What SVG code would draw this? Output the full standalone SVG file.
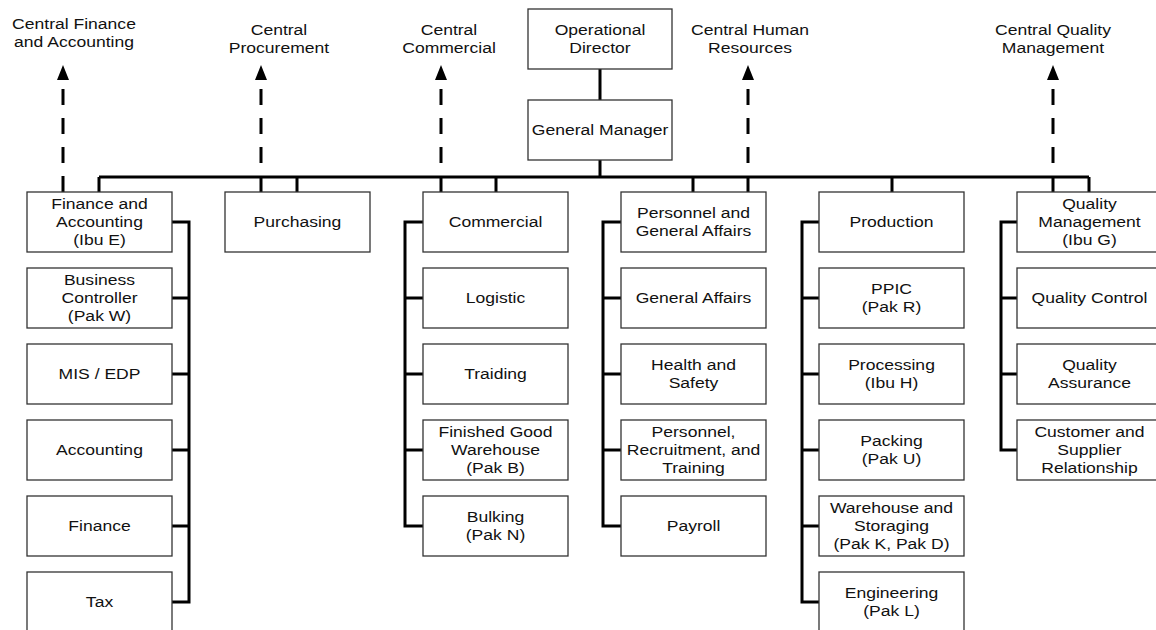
<svg xmlns="http://www.w3.org/2000/svg" width="1156" height="630" viewBox="0 0 1156 630">
<defs>
<style>
.box{fill:#fff;stroke:#333;stroke-width:1.3}
.t{font-family:"Liberation Sans",Arial,sans-serif;font-size:15px;fill:#111;text-anchor:middle}
.c{fill:none;stroke:#000;stroke-width:3}
.d{fill:none;stroke:#000;stroke-width:3;stroke-dasharray:16 13}
.ah{fill:#000}
</style>
</defs>
<rect width="1156" height="630" fill="#fff"/>
<g id="connectors">
<path class="c" d="M600 69V100M600 160V177M99 177H1089M99 177V192M297 177V192M496 177V192M693 177V192M892 177V192M1089 177V192"/>
<path class="c" d="M172 222H189V602H172M172 298H189M172 374H189M172 450H189M172 526H189"/>
<path class="c" d="M423 222H405V526H423M405 298H423M405 374H423M405 450H423"/>
<path class="c" d="M621 222H603V526H621M603 298H621M603 374H621M603 450H621"/>
<path class="c" d="M819 222H802V602H819M802 298H819M802 374H819M802 450H819M802 526H819"/>
<path class="c" d="M1017 222H1001V450H1017M1001 298H1017M1001 374H1017"/>
<path class="d" d="M63 192V80M261 192V80M441 192V80M748 192V80M1053 192V80"/>
<path class="ah" d="M63 65L57 80H69ZM261 65L255 80H267ZM441 65L435 80H447ZM748 65L742 80H754ZM1053 65L1047 80H1059Z"/>
</g>
<g id="ext-labels">
<text class="t" transform="translate(74 29) scale(1.17 1)"><tspan x="0" y="0">Central Finance</tspan><tspan x="0" y="18">and Accounting</tspan></text>
<text class="t" transform="translate(279 35) scale(1.17 1)"><tspan x="0" y="0">Central</tspan><tspan x="0" y="18">Procurement</tspan></text>
<text class="t" transform="translate(449 35) scale(1.17 1)"><tspan x="0" y="0">Central</tspan><tspan x="0" y="18">Commercial</tspan></text>
<text class="t" transform="translate(750 35) scale(1.17 1)"><tspan x="0" y="0">Central Human</tspan><tspan x="0" y="18">Resources</tspan></text>
<text class="t" transform="translate(1053 35) scale(1.17 1)"><tspan x="0" y="0">Central Quality</tspan><tspan x="0" y="18">Management</tspan></text>
</g>
<g id="op-director"><rect class="box" x="528" y="9" width="144" height="60"/><text class="t" transform="translate(600 35) scale(1.17 1)"><tspan x="0" y="0">Operational</tspan><tspan x="0" y="18">Director</tspan></text></g>
<g id="general-manager"><rect class="box" x="528" y="100" width="144" height="60"/><text class="t" transform="translate(600 135) scale(1.17 1)">General Manager</text></g>

<g id="finance-accounting"><rect class="box" x="27" y="192" width="145" height="60"/><text class="t" transform="translate(99.5 209) scale(1.17 1)"><tspan x="0" y="0">Finance and</tspan><tspan x="0" y="18">Accounting</tspan><tspan x="0" y="36">(Ibu E)</tspan></text></g>
<g id="business-controller"><rect class="box" x="27" y="268" width="145" height="60"/><text class="t" transform="translate(99.5 285) scale(1.17 1)"><tspan x="0" y="0">Business</tspan><tspan x="0" y="18">Controller</tspan><tspan x="0" y="36">(Pak W)</tspan></text></g>
<g id="mis-edp"><rect class="box" x="27" y="344" width="145" height="60"/><text class="t" transform="translate(99.5 379) scale(1.17 1)">MIS / EDP</text></g>
<g id="accounting"><rect class="box" x="27" y="420" width="145" height="60"/><text class="t" transform="translate(99.5 455) scale(1.17 1)">Accounting</text></g>
<g id="finance"><rect class="box" x="27" y="496" width="145" height="60"/><text class="t" transform="translate(99.5 531) scale(1.17 1)">Finance</text></g>
<g id="tax"><rect class="box" x="27" y="572" width="145" height="60"/><text class="t" transform="translate(99.5 607) scale(1.17 1)">Tax</text></g>

<g id="purchasing"><rect class="box" x="225" y="192" width="145" height="60"/><text class="t" transform="translate(297.5 227) scale(1.17 1)">Purchasing</text></g>

<g id="commercial"><rect class="box" x="423" y="192" width="145" height="60"/><text class="t" transform="translate(495.5 227) scale(1.17 1)">Commercial</text></g>
<g id="logistic"><rect class="box" x="423" y="268" width="145" height="60"/><text class="t" transform="translate(495.5 303) scale(1.17 1)">Logistic</text></g>
<g id="traiding"><rect class="box" x="423" y="344" width="145" height="60"/><text class="t" transform="translate(495.5 379) scale(1.17 1)">Traiding</text></g>
<g id="fg-warehouse"><rect class="box" x="423" y="420" width="145" height="60"/><text class="t" transform="translate(495.5 437) scale(1.17 1)"><tspan x="0" y="0">Finished Good</tspan><tspan x="0" y="18">Warehouse</tspan><tspan x="0" y="36">(Pak B)</tspan></text></g>
<g id="bulking"><rect class="box" x="423" y="496" width="145" height="60"/><text class="t" transform="translate(495.5 522) scale(1.17 1)"><tspan x="0" y="0">Bulking</tspan><tspan x="0" y="18">(Pak N)</tspan></text></g>

<g id="personnel-ga"><rect class="box" x="621" y="192" width="145" height="60"/><text class="t" transform="translate(693.5 218) scale(1.17 1)"><tspan x="0" y="0">Personnel and</tspan><tspan x="0" y="18">General Affairs</tspan></text></g>
<g id="general-affairs"><rect class="box" x="621" y="268" width="145" height="60"/><text class="t" transform="translate(693.5 303) scale(1.17 1)">General Affairs</text></g>
<g id="health-safety"><rect class="box" x="621" y="344" width="145" height="60"/><text class="t" transform="translate(693.5 370) scale(1.17 1)"><tspan x="0" y="0">Health and</tspan><tspan x="0" y="18">Safety</tspan></text></g>
<g id="personnel-rt"><rect class="box" x="621" y="420" width="145" height="60"/><text class="t" transform="translate(693.5 437) scale(1.17 1)"><tspan x="0" y="0">Personnel,</tspan><tspan x="0" y="18">Recruitment, and</tspan><tspan x="0" y="36">Training</tspan></text></g>
<g id="payroll"><rect class="box" x="621" y="496" width="145" height="60"/><text class="t" transform="translate(693.5 531) scale(1.17 1)">Payroll</text></g>

<g id="production"><rect class="box" x="819" y="192" width="145" height="60"/><text class="t" transform="translate(891.5 227) scale(1.17 1)">Production</text></g>
<g id="ppic"><rect class="box" x="819" y="268" width="145" height="60"/><text class="t" transform="translate(891.5 294) scale(1.17 1)"><tspan x="0" y="0">PPIC</tspan><tspan x="0" y="18">(Pak R)</tspan></text></g>
<g id="processing"><rect class="box" x="819" y="344" width="145" height="60"/><text class="t" transform="translate(891.5 370) scale(1.17 1)"><tspan x="0" y="0">Processing</tspan><tspan x="0" y="18">(Ibu H)</tspan></text></g>
<g id="packing"><rect class="box" x="819" y="420" width="145" height="60"/><text class="t" transform="translate(891.5 446) scale(1.17 1)"><tspan x="0" y="0">Packing</tspan><tspan x="0" y="18">(Pak U)</tspan></text></g>
<g id="warehouse-storaging"><rect class="box" x="819" y="496" width="145" height="60"/><text class="t" transform="translate(891.5 513) scale(1.17 1)"><tspan x="0" y="0">Warehouse and</tspan><tspan x="0" y="18">Storaging</tspan><tspan x="0" y="36">(Pak K, Pak D)</tspan></text></g>
<g id="engineering"><rect class="box" x="819" y="572" width="145" height="60"/><text class="t" transform="translate(891.5 598) scale(1.17 1)"><tspan x="0" y="0">Engineering</tspan><tspan x="0" y="18">(Pak L)</tspan></text></g>

<g id="quality-management"><rect class="box" x="1017" y="192" width="145" height="60"/><text class="t" transform="translate(1089.5 209) scale(1.17 1)"><tspan x="0" y="0">Quality</tspan><tspan x="0" y="18">Management</tspan><tspan x="0" y="36">(Ibu G)</tspan></text></g>
<g id="quality-control"><rect class="box" x="1017" y="268" width="145" height="60"/><text class="t" transform="translate(1089.5 303) scale(1.17 1)">Quality Control</text></g>
<g id="quality-assurance"><rect class="box" x="1017" y="344" width="145" height="60"/><text class="t" transform="translate(1089.5 370) scale(1.17 1)"><tspan x="0" y="0">Quality</tspan><tspan x="0" y="18">Assurance</tspan></text></g>
<g id="customer-supplier"><rect class="box" x="1017" y="420" width="145" height="60"/><text class="t" transform="translate(1089.5 437) scale(1.17 1)"><tspan x="0" y="0">Customer and</tspan><tspan x="0" y="18">Supplier</tspan><tspan x="0" y="36">Relationship</tspan></text></g>
</svg>
